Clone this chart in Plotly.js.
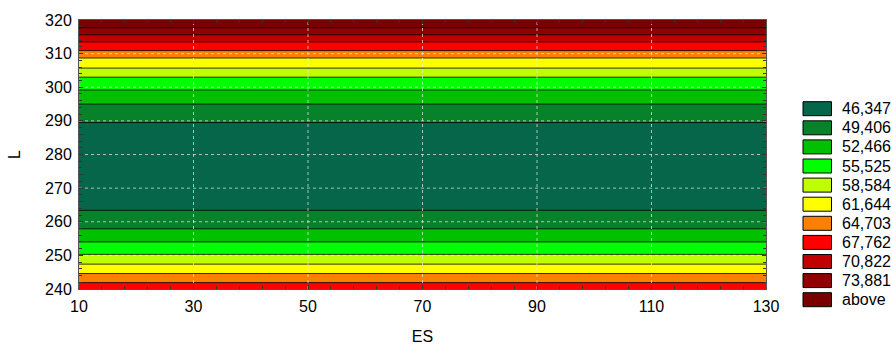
<!DOCTYPE html>
<html><head><meta charset="utf-8">
<script src="https://cdn.plot.ly/plotly-3.0.1.min.js"></script>
<style>html,body{margin:0;padding:0;background:#fff}#chart{width:892px;height:345px}</style>
</head><body><div id="chart"></div>
<script>
// ---- data ----
const esValues = [10, 130];
const lValues = [240, 241.9, 244.6, 247.4, 250.3, 254.0, 257.9, 263.4, 276.5, 289.5, 295.0, 299.2, 303.0, 305.7, 308.7, 310.9, 313.5, 315.6, 317.7, 320];
const zValues = [66.2, 64.703, 61.644, 58.584, 55.525, 52.466, 49.406, 46.347, 43.3, 46.347, 49.406, 52.466, 55.525, 58.584, 61.644, 64.703, 67.762, 70.822, 73.881, 75.6];
const levels = [46.347, 49.406, 52.466, 55.525, 58.584, 61.644, 64.703, 67.762, 70.822, 73.881];
const legendLabels = ['46,347', '49,406', '52,466', '55,525', '58,584', '61,644', '64,703', '67,762', '70,822', '73,881', 'above'];
const bandColors = ['#05664a', '#07822a', '#00c000', '#00ff00', '#c0ff00', '#ffff00', '#ff8000', '#ff0000', '#c00000', '#900000', '#7a0000'];
const xTicks = [10, 30, 50, 70, 90, 110, 130];
const yTicks = [240, 250, 260, 270, 280, 290, 300, 310, 320];

// ---- build ----
const zGrid = zValues.map(v => esValues.map(() => v));
const n = bandColors.length;
const colorscale = bandColors.map((c, i) => [i / (n - 1), c]);
const xr = [xTicks[0], xTicks[xTicks.length - 1]];
const yr = [yTicks[0], yTicks[yTicks.length - 1]];

const contour = {
  type: 'contour', x: esValues, y: lValues, z: zGrid,
  autocontour: false,
  contours: {start: levels[0], end: levels[levels.length - 1], size: (levels[levels.length - 1] - levels[0]) / (levels.length - 1), coloring: 'fill', showlines: true},
  line: {color: 'rgba(0,0,0,0.8)', width: 1, smoothing: 0},
  colorscale: colorscale, showscale: false, hoverinfo: 'skip'
};

// dotted grid drawn above the fill
const gx = [], gy = [];
xTicks.slice(1, -1).forEach(t => { gx.push(t, t, null); gy.push(yr[0], yr[1], null); });
yTicks.slice(1, -1).forEach(t => { gx.push(xr[0], xr[1], null); gy.push(t, t, null); });
const grid = {type: 'scatter', mode: 'lines', x: gx, y: gy, line: {color: 'rgba(235,235,235,0.7)', width: 1, dash: 'dot'}, hoverinfo: 'skip', showlegend: false};

const L = 79, R = 766, T = 20, B = 289;
const W = R - L, H = B - T;
const px2x = p => (p - L) / W, px2y = p => (B - p) / H;
const shapes = [], annotations = [];
legendLabels.forEach((lab, i) => {
  const top = 101.7 + i * 19.1;
  shapes.push({type: 'rect', xref: 'paper', yref: 'paper', x0: px2x(803), x1: px2x(831.5), y0: px2y(top), y1: px2y(top + 14), fillcolor: bandColors[i], line: {color: '#000', width: 1}});
  annotations.push({xref: 'paper', yref: 'paper', x: px2x(840), y: px2y(top + 7), xanchor: 'left', yanchor: 'middle', text: lab, showarrow: false, font: {family: 'Liberation Sans, Arial, sans-serif', size: 16, color: '#000'}});
});

const font = {family: 'Liberation Sans, Arial, sans-serif', size: 16, color: '#000'};
const layout = {
  width: 892, height: 345,
  margin: {l: L, r: 892 - R, t: T, b: 345 - B, pad: 0},
  paper_bgcolor: '#fff', plot_bgcolor: '#fff',
  font: font, showlegend: false,
  xaxis: {range: xr, tickvals: xTicks, ticks: 'inside', ticklen: 4, tickcolor: '#333', showline: true, mirror: 'ticks', linecolor: '#555', linewidth: 1,
          showgrid: false, zeroline: false, tickfont: font, ticklabelstandoff: 3,
          minor: {ticks: 'inside', tick0: xTicks[0], dtick: 4, ticklen: 3, tickcolor: '#333'},
          title: {text: 'ES', font: font, standoff: 20}},
  yaxis: {range: yr, tickvals: yTicks, ticks: 'inside', ticklen: 4, tickcolor: '#333', showline: true, mirror: 'ticks', linecolor: '#555', linewidth: 1,
          showgrid: false, zeroline: false, tickfont: font, ticklabelstandoff: 3,
          minor: {ticks: 'inside', tick0: yTicks[0], dtick: 2, ticklen: 3, tickcolor: '#333'},
          title: {text: 'L', font: font, standoff: 20}},
  shapes: shapes, annotations: annotations
};
Plotly.newPlot('chart', [contour, grid], layout, {staticPlot: true});
</script></body></html>
